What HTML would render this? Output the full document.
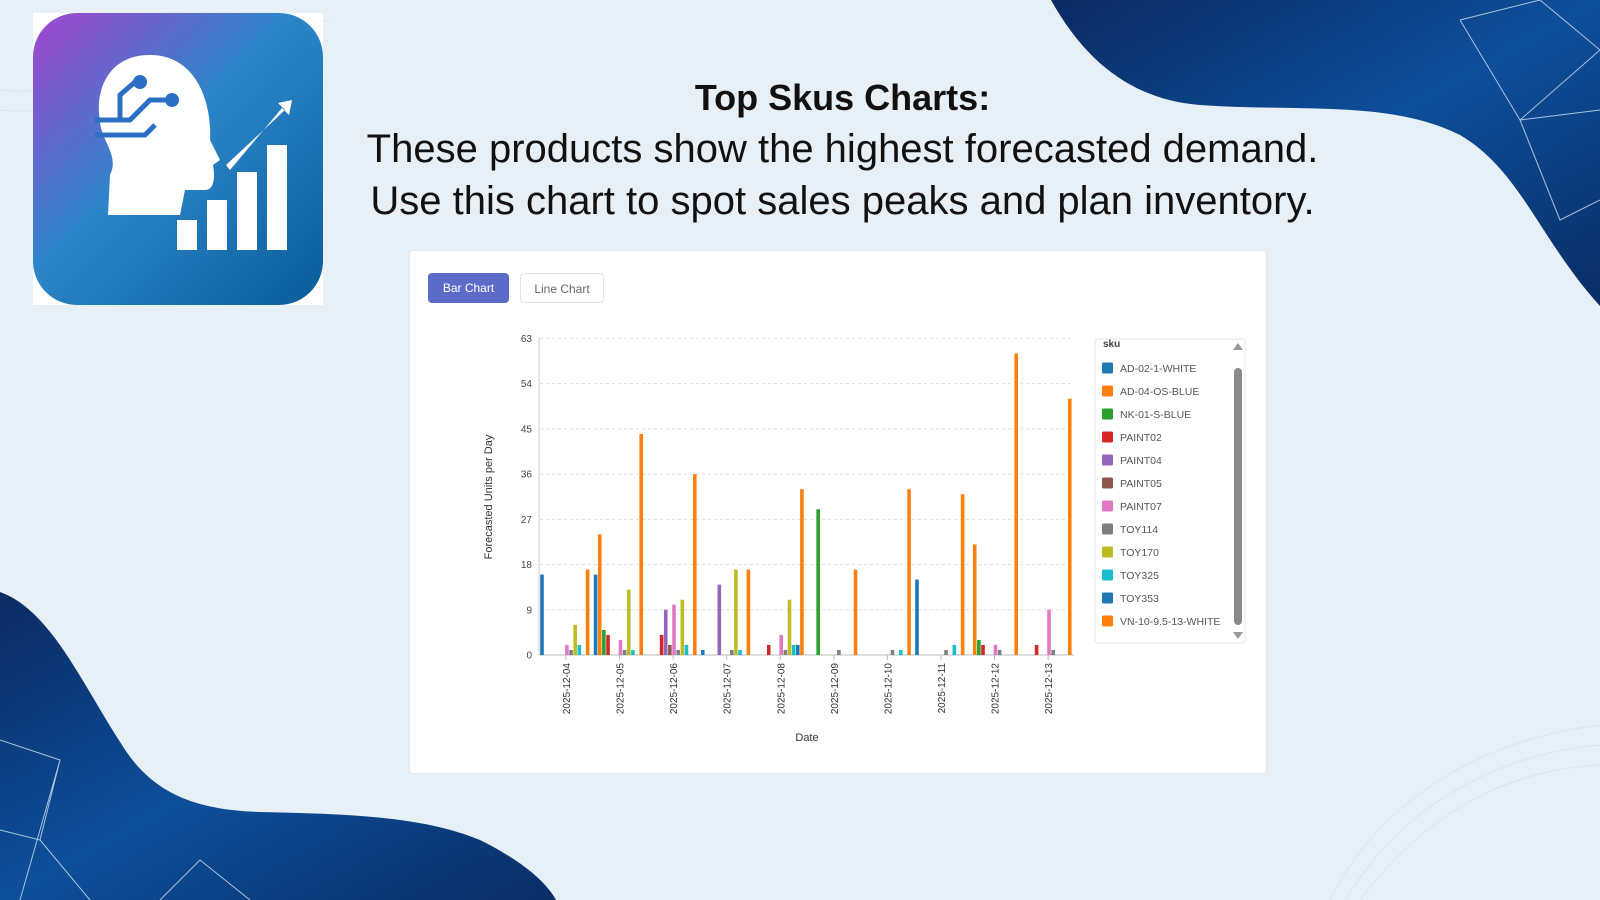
<!DOCTYPE html>
<html><head><meta charset="utf-8"><style>
html,body{margin:0;padding:0}
body{width:1600px;height:900px;position:relative;overflow:hidden;background:#e8f0f7;font-family:"Liberation Sans",sans-serif}
.h{position:absolute;left:250px;width:1185px;text-align:center;color:#111;font-size:40px}
.card{position:absolute;left:409px;top:250px;width:856px;height:522px;background:#fff;border:1px solid #e3e6ea;border-radius:4px}
.btn{position:absolute;top:273px;height:30px;border-radius:4px;font-size:12px;line-height:30px;text-align:center}
</style></head><body>
<svg width="1600" height="900" style="position:absolute;left:0;top:0">
<defs>
<linearGradient id="bl" x1="0" y1="0" x2="1" y2="1"><stop offset="0" stop-color="#0b2a63"/><stop offset="0.5" stop-color="#0d4f9a"/><stop offset="1" stop-color="#0a2d66"/></linearGradient>
<linearGradient id="lg" x1="0" y1="0" x2="1" y2="1"><stop offset="0" stop-color="#a444d0"/><stop offset="0.45" stop-color="#2b86c9"/><stop offset="1" stop-color="#0a5c99"/></linearGradient>
</defs>
<path d="M1051,0 C1090,70 1140,100 1200,105 C1300,112 1390,100 1460,135 C1520,170 1540,240 1600,306 L1600,0 Z" fill="url(#bl)"/>
<path d="M0,592 C50,610 80,680 122,745 C150,790 190,810 260,812 C340,814 420,815 480,840 C520,860 545,880 556,900 L0,900 Z" fill="url(#bl)"/>
<g stroke="#cfe3f5" stroke-width="1" fill="none" opacity="0.8">
<path d="M1330,900 C1380,800 1480,740 1600,725"/><path d="M1345,900 C1400,810 1490,755 1600,745"/><path d="M1360,900 C1420,820 1500,770 1600,765"/>
<path d="M1460,20 L1540,0 L1600,50 L1520,120 L1560,220 L1600,200 M1520,120 L1600,110 M1460,20 L1520,120"/>
<path d="M0,740 L60,760 L40,840 L0,830 M40,840 L90,900 M60,760 L20,900 M160,900 L200,860 L250,900"/>
<path d="M0,90 C100,100 240,40 330,20 M0,110 C100,120 240,60 330,40"/>
</g>
<rect x="33" y="13" width="290" height="292" fill="#fff"/>
<rect x="33" y="13" width="290" height="292" rx="44" fill="url(#lg)"/>
<g fill="#fff">
<path d="M150,55 C105,55 95,95 100,120 C100,140 120,155 110,175 L108,215 L180,215 L185,190 L205,190 C215,190 215,175 213,165 L220,160 L210,140 C212,100 195,55 150,55 Z"/>
<rect x="177" y="220" width="20" height="30"/><rect x="207" y="200" width="20" height="50"/><rect x="237" y="172" width="20" height="78"/><rect x="267" y="145" width="20" height="105"/>
<path d="M226,165 L285,110 L278,103 L292,100 L289,115 L282,108 L230,170 Z"/>
</g>
<g stroke="#2b6fc4" stroke-width="5" fill="none"><path d="M95,120 L130,120 L150,100 L170,100"/><path d="M95,135 L145,135 L155,125"/><path d="M120,120 L120,95 L135,82"/></g>
<g fill="#2b6fc4"><circle cx="140" cy="82" r="7"/><circle cx="172" cy="100" r="7"/></g>
</svg>
<div class="h" style="top:77px;font-weight:bold;font-size:36px">Top Skus Charts:</div>
<div class="h" style="top:127px">These products show the highest forecasted demand.</div>
<div class="h" style="top:179px">Use this chart to spot sales peaks and plan inventory.</div>
<div class="card"></div>
<div class="btn" style="left:428px;width:81px;background:#5c6bc8;color:#fff">Bar Chart</div>
<div class="btn" style="left:520px;width:84px;border:1px solid #e2e2e2;box-sizing:border-box;color:#666">Line Chart</div>
<svg id="c" width="1600" height="900" style="position:absolute;left:0;top:0" font-family="Liberation Sans, sans-serif"></svg>
<script>
var s=document.getElementById('c'),h='';
var cols=['#1f77b4','#ff7f0e','#2ca02c','#d62728','#9467bd','#8c564b','#e377c2','#7f7f7f','#bcbd22','#17becf','#1f77b4','#ff7f0e'];
var names=['AD-02-1-WHITE','AD-04-OS-BLUE','NK-01-S-BLUE','PAINT02','PAINT04','PAINT05','PAINT07','TOY114','TOY170','TOY325','TOY353','VN-10-9.5-13-WHITE'];
var data=[
{0:16,6:2,7:1,8:6,9:2,11:17},
{0:16,1:24,2:5,3:4,6:3,7:1,8:13,9:1,11:44},
{3:4,4:9,5:2,6:10,7:1,8:11,9:2,11:36},
{0:1,4:14,7:1,8:17,9:1,11:17},
{3:2,6:4,7:1,8:11,9:2,10:2,11:33},
{2:29,7:1,11:17},
{7:1,9:1,11:33},
{0:15,7:1,9:2,11:32},
{1:22,2:3,3:2,6:2,7:1,11:60},
{3:2,6:9,7:1,11:51}];
var y0=655,u=(655-338.4)/63;
for(var i=0;i<=7;i++){var v=i*9,y=y0-v*u;
 if(i>0)h+='<line x1="540" x2="1074" y1="'+y+'" y2="'+y+'" stroke="#ddd" stroke-dasharray="3,3"/>';
 h+='<text x="532" y="'+(y+3.5)+'" font-size="10" text-anchor="end" fill="#444">'+v+'</text>';}
h+='<line x1="539" x2="539" y1="338" y2="655" stroke="#ccc"/><line x1="539" x2="1074" y1="655" y2="655" stroke="#bbb"/>';
data.forEach(function(d,di){for(var k in d){var x=542+53.57*di+4.15*k,hh=d[k]*u;
 h+='<rect x="'+(x-1.8)+'" y="'+(y0-hh)+'" width="3.6" height="'+hh+'" fill="'+cols[k]+'"/>';}
 var cx=566+53.57*di;
 h+='<line x1="'+cx+'" x2="'+cx+'" y1="655" y2="660" stroke="#bbb"/>';
 h+='<text transform="translate('+(cx+4)+',663) rotate(-90)" font-size="10" text-anchor="end" fill="#333">2025-12-'+(4+di<10?'0':'')+(4+di)+'</text>';});
h+='<text transform="translate(492,497) rotate(-90)" font-size="11" text-anchor="middle" fill="#333">Forecasted Units per Day</text>';
h+='<text x="807" y="741" font-size="11" text-anchor="middle" fill="#333">Date</text>';
h+='<rect x="1095" y="339" width="150" height="304" rx="3" fill="#fff" stroke="#e4e4e4"/>';
h+='<text x="1103" y="347" font-size="10" font-weight="bold" fill="#444">sku</text>';
names.forEach(function(n,i){var y=368+23*i;h+='<rect x="1102" y="'+(y-5.5)+'" width="11" height="11" rx="1.5" fill="'+cols[i]+'"/><text x="1120" y="'+(y+4)+'" font-size="10.5" fill="#555">'+n+'</text>';});
h+='<rect x="1234" y="368" width="8" height="257" rx="4" fill="#8a8a8a"/>';
h+='<path d="M1233,350 L1243,350 L1238,343 Z" fill="#999"/><path d="M1233,632 L1243,632 L1238,639 Z" fill="#999"/>';
s.innerHTML=h;
</script>
</body></html>
